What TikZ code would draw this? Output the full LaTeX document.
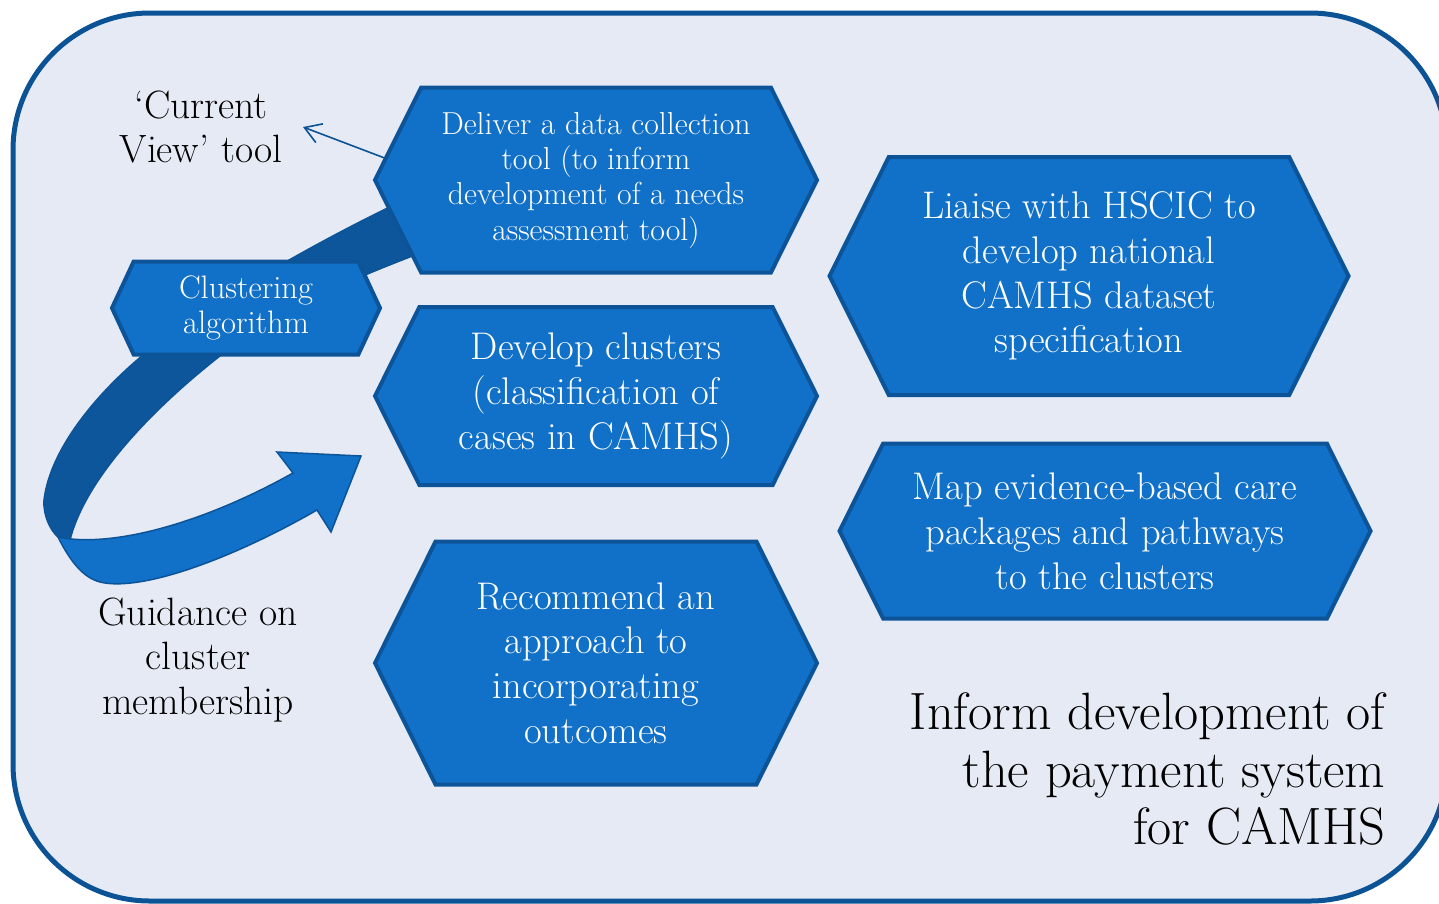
\documentclass[tikz,border=0pt]{standalone}
\usetikzlibrary{shapes.symbols,arrows.meta}
\definecolor{panelfill}{HTML}{E6EAF5}
\definecolor{panelline}{HTML}{0B5394}
\definecolor{hexfill}{HTML}{1170C8}
\definecolor{hexline}{HTML}{0C5497}
\definecolor{ribbondark}{HTML}{0D569B}
\begin{document}
\begin{tikzpicture}[x=1pt,y=-1pt]
	\tikzstyle{task}=[signal,signal to=west and east,signal pointer angle=127,draw=hexline,line width=4pt,fill=hexfill,text=white,align=center,inner sep=0pt]
	\tikzstyle{small}=[font=\fontsize{31.8}{35.3}\selectfont]
	\tikzstyle{big}=[font=\fontsize{38.5}{44.8}\selectfont]
	\tikzstyle{note}=[align=center,font=\fontsize{39.5}{44.8}\selectfont]
	\tikzstyle{ribbon}=[draw=hexline,line width=1.5pt]
	\tikzstyle{pointer}=[draw=panelline,line width=1.6pt,-{Straight Barb[length=16pt,width=20pt]}]
	\useasboundingbox (0,0) rectangle (1439,903);
	\begin{scope}
		\clip (0,0) rectangle (1439,903);
		\draw[fill=panelfill,draw=panelline,line width=5pt,rounded corners=137pt] (13,13) rectangle (1447,901);
	\end{scope}
	\path[ribbon,fill=ribbondark] (400,202) .. controls (300,250) and (200,310) .. (143,355)
		.. controls (95,395) and (50,450) .. (44,500) .. controls (43,515) and (50,530) .. (58,537)
		-- (70,540) .. controls (85,480) and (150,410) .. (225,352)
		.. controls (280,310) and (350,280) .. (415,255) -- cycle;
	\path[ribbon,fill=hexfill] (58,537) .. controls (110,548) and (200,525) .. (293,473)
		-- (277,452) -- (361,456) -- (331,532) -- (317,510)
		.. controls (230,560) and (140,592) .. (100,582) .. controls (85,578) and (72,565) .. (58,537) -- cycle;
	\node[task,small,minimum width=442pt,minimum height=185pt] (deliver) at (596,180) {Deliver a data collection\\tool (to inform\\development of a needs\\assessment tool)};
	\node[task,big,minimum width=442pt,minimum height=178pt] (develop) at (596,396) {Develop clusters\\(classification of\\cases in CAMHS)};
	\node[task,big,minimum width=442pt,minimum height=243pt] (recommend) at (596,663) {Recommend an\\approach to\\incorporating\\outcomes};
	\node[task,big,minimum width=519pt,minimum height=238pt] (liaise) at (1089,276) {Liaise with HSCIC to\\develop national\\CAMHS dataset\\specification};
	\node[task,big,minimum width=531pt,minimum height=175pt] (map) at (1105,531) {Map evidence-based care\\packages and pathways\\to the clusters};
	\node[task,font=\fontsize{32.5}{35}\selectfont,signal pointer angle=130,minimum width=268pt,minimum height=93pt] (clustering) at (246,308) {Clustering\\algorithm};
	\node[note] (currentview) at (201,127) {‘Current\\View’ tool};
	\node[note] (guidance) at (198,660) {Guidance on\\cluster\\membership};
	\node[align=right,anchor=east,font=\fontsize{52.5}{57.5}\selectfont] (inform) at (1389,769) {Inform development of\\the payment system\\for CAMHS};
	\coordinate (cvtip) at (303,127);
	\path[pointer] (deliver.174) -- (cvtip);
\end{tikzpicture}
\end{document}
